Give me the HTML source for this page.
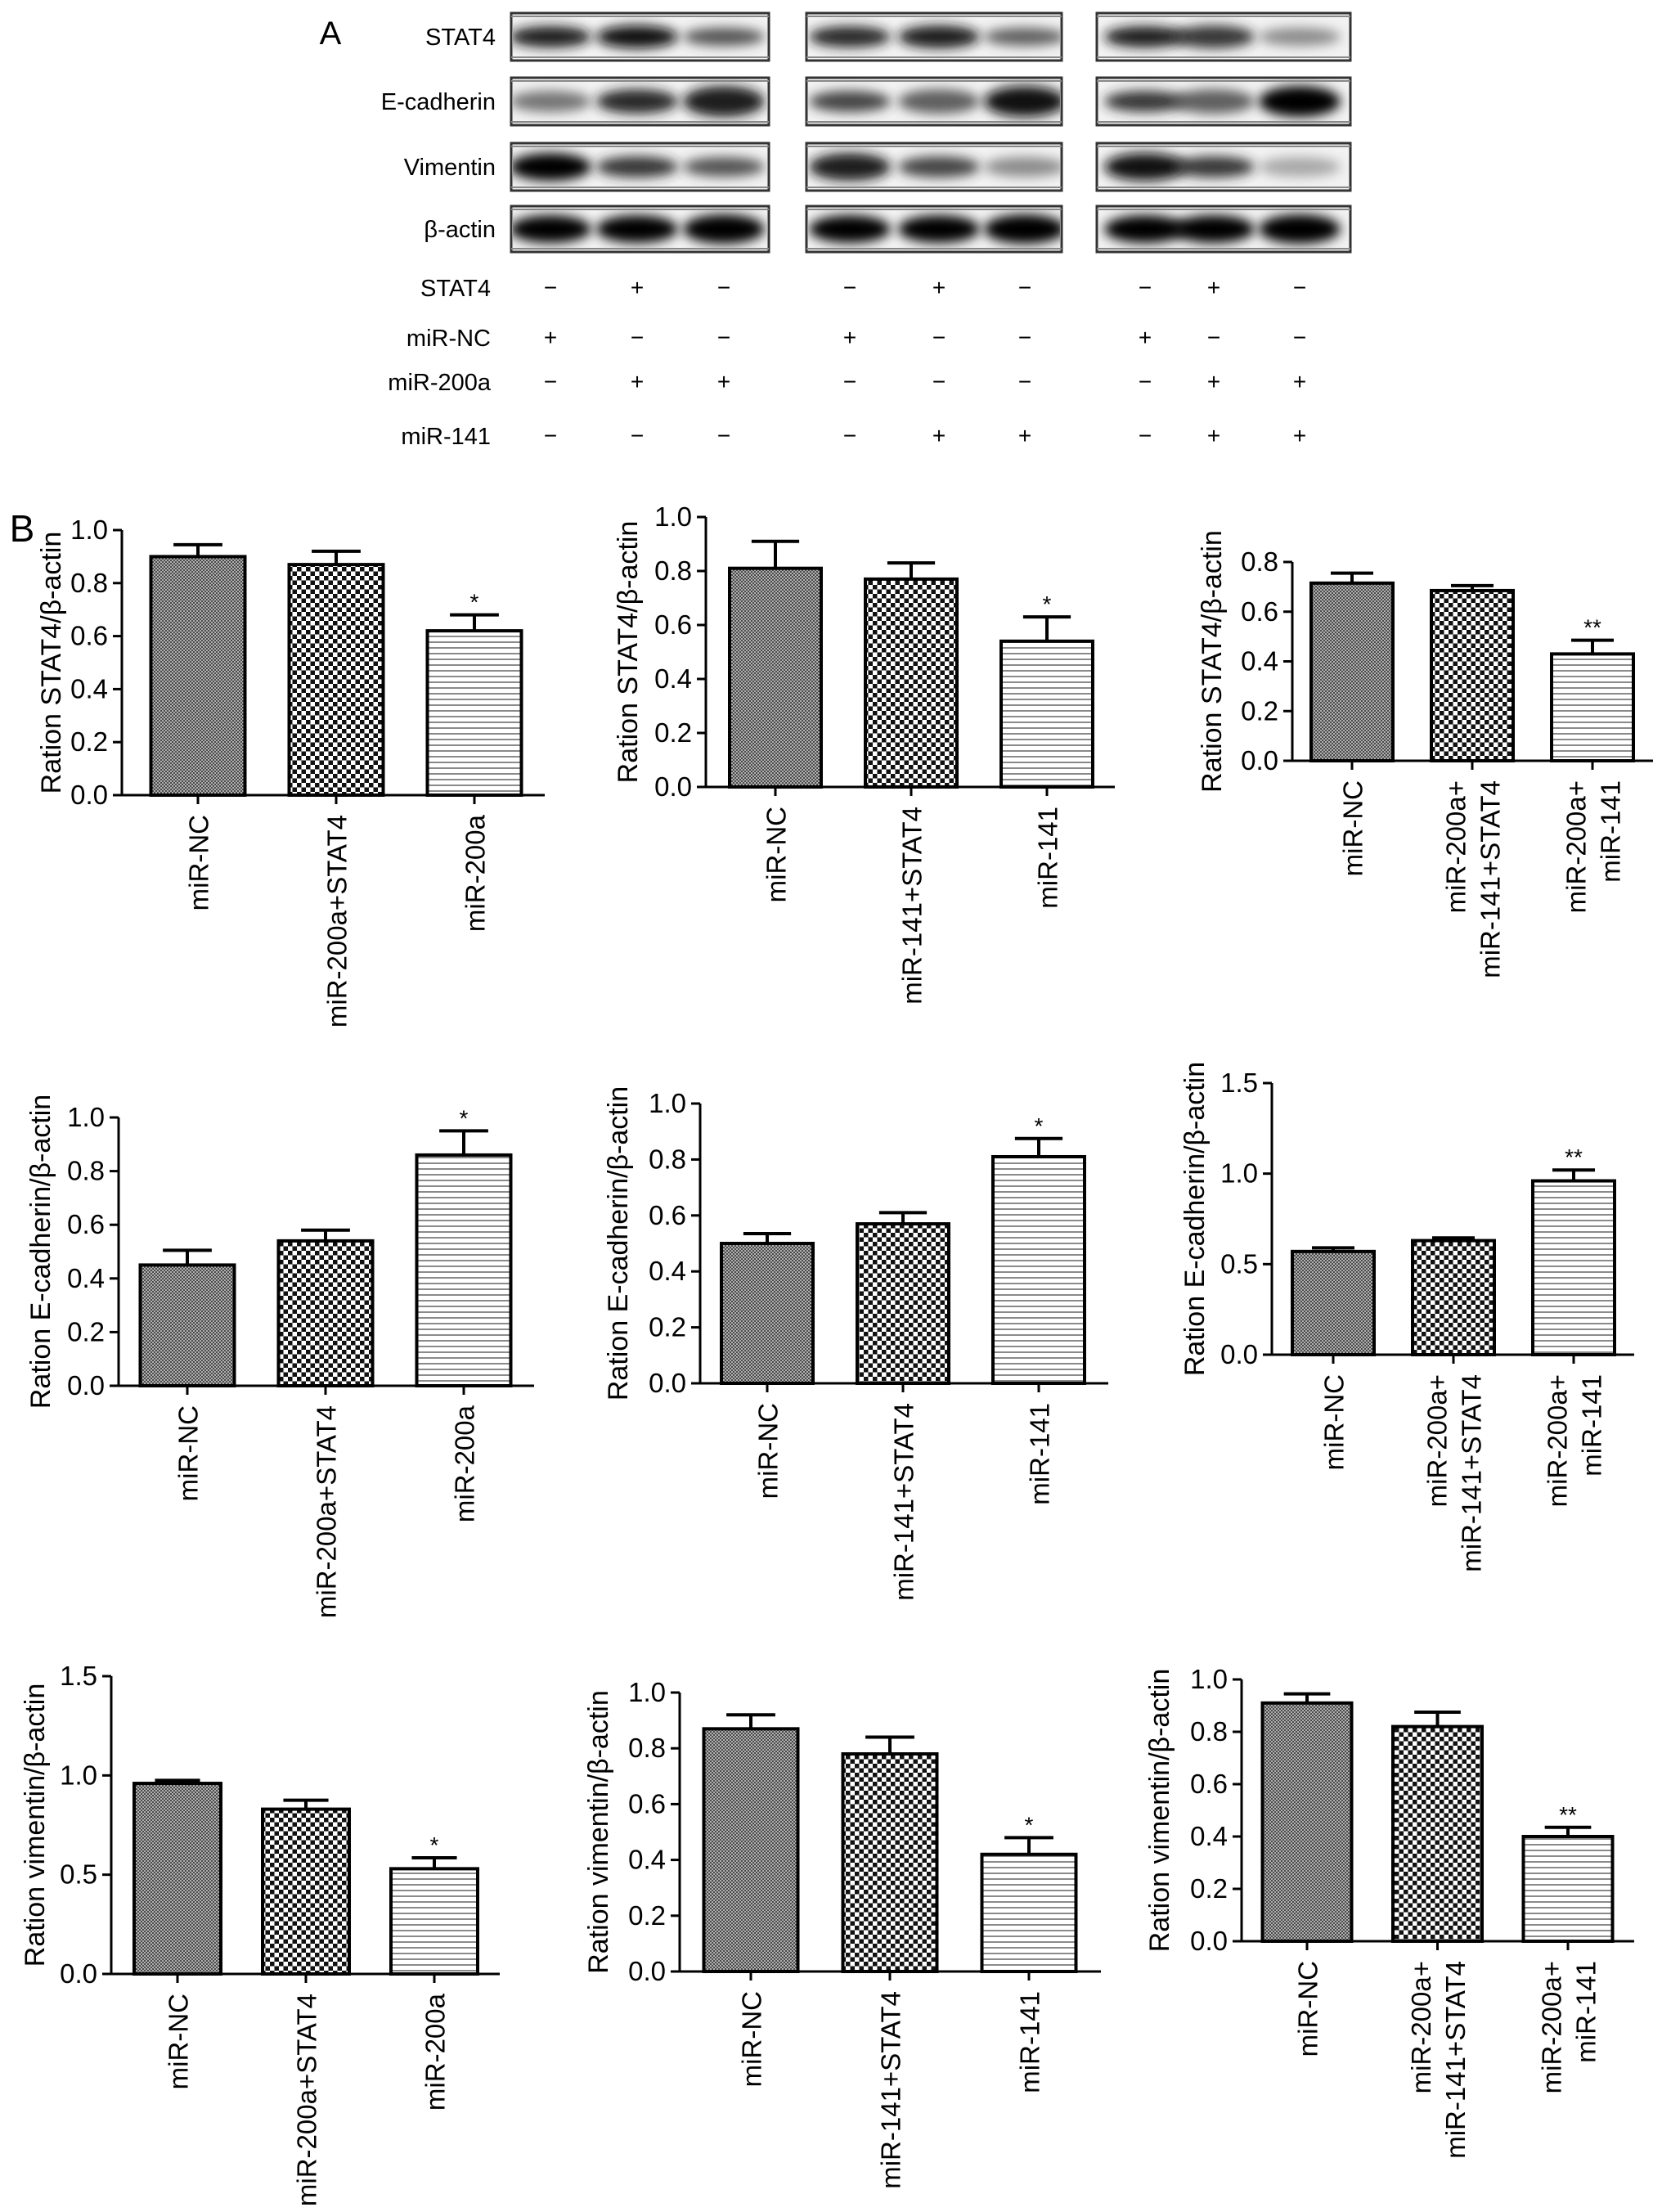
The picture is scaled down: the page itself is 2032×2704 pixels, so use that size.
<!DOCTYPE html>
<html><head><meta charset="utf-8"><style>
html,body{margin:0;padding:0;background:#fff;}
svg{display:block;font-family:"Liberation Sans",Arial,sans-serif;}
</style></head><body>
<svg id="fig" width="2032" height="2704" viewBox="0 0 2032 2704" xmlns="http://www.w3.org/2000/svg">
<defs>
<pattern id="pat-fine" width="4" height="4" patternUnits="userSpaceOnUse"><rect width="4" height="4" fill="#b0b0b0"/><rect width="2" height="2" fill="#4a4a4a"/><rect x="2" y="2" width="2" height="2" fill="#4a4a4a"/></pattern>
<pattern id="pat-check" width="11" height="11" patternUnits="userSpaceOnUse"><rect width="11" height="11" fill="#fff"/><rect width="5.5" height="5.5" fill="#111"/><rect x="5.5" y="5.5" width="5.5" height="5.5" fill="#111"/></pattern>
<pattern id="pat-hline" width="8" height="7" patternUnits="userSpaceOnUse"><rect width="8" height="7" fill="#fff"/><rect y="0" width="8" height="2" fill="#8a8a8a"/></pattern>
<filter id="blur" x="-30%" y="-80%" width="160%" height="260%"><feGaussianBlur stdDeviation="7"/></filter>
</defs>
<g id="blots"></g>
<g id="charts"></g>
</svg>
<script>
// ---------- Chart data ----------
const cats200 = ["miR-NC","miR-200a+STAT4","miR-200a"];
const cats141 = ["miR-NC","miR-141+STAT4","miR-141"];
const catsBoth = [["miR-NC"],["miR-200a+","miR-141+STAT4"],["miR-200a+","miR-141"]];

const stat4Vals200 = [0.90, 0.87, 0.62];
const stat4Errs200 = [0.045, 0.05, 0.06];
const stat4Vals141 = [0.81, 0.77, 0.54];
const stat4Errs141 = [0.10, 0.06, 0.09];
const stat4ValsBoth = [0.715, 0.685, 0.43];
const stat4ErrsBoth = [0.04, 0.02, 0.055];

const ecadVals200 = [0.45, 0.54, 0.86];
const ecadErrs200 = [0.055, 0.04, 0.09];
const ecadVals141 = [0.50, 0.57, 0.81];
const ecadErrs141 = [0.035, 0.04, 0.065];
const ecadValsBoth = [0.57, 0.63, 0.96];
const ecadErrsBoth = [0.02, 0.015, 0.06];

const vimVals200 = [0.96, 0.83, 0.53];
const vimErrs200 = [0.015, 0.045, 0.055];
const vimVals141 = [0.87, 0.78, 0.42];
const vimErrs141 = [0.05, 0.06, 0.06];
const vimValsBoth = [0.91, 0.82, 0.40];
const vimErrsBoth = [0.035, 0.055, 0.035];

const starsSingle = ["","","*"];
const starsDouble = ["","","**"];

const ticks10 = ["0.0","0.2","0.4","0.6","0.8","1.0"];
const ticks08 = ["0.0","0.2","0.4","0.6","0.8"];
const ticks15 = ["0.0","0.5","1.0","1.5"];

const titleStat4 = "Ration STAT4/β-actin";
const titleEcad = "Ration E-cadherin/β-actin";
const titleVim = "Ration vimentin/β-actin";

// ---------- Layout (pixels, not data) ----------
const panels = [
 {name:"stat4-mir200a", cats:cats200, vals:stat4Vals200, errs:stat4Errs200, stars:starsSingle, ticks:ticks10, title:titleStat4,
  L:{ax:149,y0:972,yTopPx:648,xEnd:666,c0:242,step:169,w:115,tx:63}},
 {name:"stat4-mir141", cats:cats141, vals:stat4Vals141, errs:stat4Errs141, stars:starsSingle, ticks:ticks10, title:titleStat4,
  L:{ax:863,y0:962,yTopPx:632,xEnd:1363,c0:948,step:166,w:112,tx:768}},
 {name:"stat4-combined", cats:catsBoth, vals:stat4ValsBoth, errs:stat4ErrsBoth, stars:starsDouble, ticks:ticks08, title:titleStat4,
  L:{ax:1580,y0:930,yTopPx:687,xEnd:2021,c0:1653,step:147,w:100,tx:1482}},
 {name:"ecad-mir200a", cats:cats200, vals:ecadVals200, errs:ecadErrs200, stars:starsSingle, ticks:ticks10, title:titleEcad,
  L:{ax:145,y0:1694,yTopPx:1366,xEnd:653,c0:229,step:169,w:115,tx:50}},
 {name:"ecad-mir141", cats:cats141, vals:ecadVals141, errs:ecadErrs141, stars:starsSingle, ticks:ticks10, title:titleEcad,
  L:{ax:856,y0:1691,yTopPx:1349,xEnd:1355,c0:938,step:166,w:112,tx:756}},
 {name:"ecad-combined", cats:catsBoth, vals:ecadValsBoth, errs:ecadErrsBoth, stars:starsDouble, ticks:ticks15, title:titleEcad,
  L:{ax:1555,y0:1656,yTopPx:1324,xEnd:1998,c0:1630,step:147,w:100,tx:1461}},
 {name:"vim-mir200a", cats:cats200, vals:vimVals200, errs:vimErrs200, stars:starsSingle, ticks:ticks15, title:titleVim,
  L:{ax:136,y0:2413,yTopPx:2049,xEnd:611,c0:217,step:157,w:106,tx:43}},
 {name:"vim-mir141", cats:cats141, vals:vimVals141, errs:vimErrs141, stars:starsSingle, ticks:ticks10, title:titleVim,
  L:{ax:831,y0:2410,yTopPx:2069,xEnd:1346,c0:918,step:170,w:115,tx:732}},
 {name:"vim-combined", cats:catsBoth, vals:vimValsBoth, errs:vimErrsBoth, stars:starsDouble, ticks:ticks10, title:titleVim,
  L:{ax:1518,y0:2373,yTopPx:2053,xEnd:1998,c0:1598,step:159.5,w:109,tx:1418}}
];
const fills = ["url(#pat-fine)","url(#pat-check)","url(#pat-hline)"];

const NS = "http://www.w3.org/2000/svg";
function mk(tag, attrs, parent){
  const e = document.createElementNS(NS, tag);
  for (const k in attrs) e.setAttribute(k, attrs[k]);
  if (parent) parent.appendChild(e);
  return e;
}
const charts = document.getElementById("charts");

const bLabel = mk("text",{x:27,y:662,"font-size":46,"text-anchor":"middle"},charts);
bLabel.textContent = "B";



panels.forEach(function(p){
  const L = p.L;
  const yMax = parseFloat(p.ticks[p.ticks.length-1]);
  const yScale = function(v){ return L.y0 - (v / yMax) * (L.y0 - L.yTopPx); };
  const xScale = function(i){ return L.c0 + i * L.step; };
  const g = mk("g",{},charts);
  
  

  p.vals.forEach(function(v, i){
    const cx = xScale(i), top = yScale(v);
    const bar = mk("rect",{x:cx - L.w/2, y:top, width:L.w, height:L.y0 - top, fill:fills[i], stroke:"#000","stroke-width":4},g);
    
    
    const et = yScale(v + p.errs[i]);
    const cap = L.w * 0.26;
    const eb = mk("path",{d:"M"+cx+" "+top+"V"+et+"M"+(cx-cap)+" "+et+"H"+(cx+cap), stroke:"#000","stroke-width":4,fill:"none"},g);
    
    
    if (p.stars[i]) {
      const st = mk("text",{x:cx, y:et - 6, "font-size":28, "text-anchor":"middle"},g);
      st.textContent = p.stars[i];
      
      
    }
    mk("line",{x1:cx,x2:cx,y1:L.y0,y2:L.y0+11,stroke:"#000","stroke-width":3},g);
    const lines = Array.isArray(p.cats[i]) ? p.cats[i] : [p.cats[i]];
    lines.forEach(function(t, j){
      const off = (j - (lines.length-1)/2) * 42;
      const lx = cx + off + 1, ly = L.y0 + 24;
      const tx = mk("text",{x:lx, y:ly, "font-size":33, "text-anchor":"end","dominant-baseline":"central", transform:"rotate(-90 "+lx+" "+ly+")"},g);
      tx.textContent = t;
      
      
    });
  });

  const axes = mk("path",{d:"M"+L.ax+" "+L.yTopPx+"V"+L.y0+"M"+(L.ax-3)+" "+L.y0+"H"+L.xEnd, stroke:"#000","stroke-width":3,fill:"none"},g);
  
  
  p.ticks.forEach(function(t){
    const y = yScale(parseFloat(t));
    mk("line",{x1:L.ax-11,x2:L.ax,y1:y,y2:y,stroke:"#000","stroke-width":3},g);
    const tl = mk("text",{x:L.ax-17, y:y+11, "font-size":33, "text-anchor":"end"},g);
    tl.textContent = t;
    
    
  });
  const midY = (L.y0 + L.yTopPx)/2;
  const yt = mk("text",{x:L.tx, y:midY, "font-size":34, "text-anchor":"middle","dominant-baseline":"central", transform:"rotate(-90 "+L.tx+" "+midY+")"},g);
  yt.textContent = p.title;
  
  
});

// ---------- Western blot ----------
const blotRowNames = ["STAT4","E-cadherin","Vimentin","β-actin"];
const blotRowY = [[16,74],[95,153],[175,233],[252,308]];
const blotColX = [[625,940],[986,1298],[1341,1651]];
const laneX = [[673,779,885],[1039,1148,1253],[1400,1484,1589]];
const bandInt = [
 [[0.9,0.95,0.7],[0.85,0.9,0.65],[0.9,0.8,0.45]],
 [[0.55,0.85,0.9],[0.75,0.65,0.95],[0.8,0.65,1.0]],
 [[1.0,0.8,0.7],[0.9,0.75,0.45],[0.95,0.8,0.3]],
 [[0.98,0.98,0.98],[0.98,0.98,1.0],[1.0,1.0,1.0]]
];
const bandH = [[22,24,18],[22,26,34],[30,22,20],[30,30,32]];
const signRowNames = ["STAT4","miR-NC","miR-200a","miR-141"];
const signRowY = [352,413,467,533];
const signs = [
 ["−","+","−","−","+","−","−","+","−"],
 ["+","−","−","+","−","−","+","−","−"],
 ["−","+","+","−","−","−","−","+","+"],
 ["−","−","−","−","+","+","−","+","+"]
];

const blots = document.getElementById("blots");
const aL = mk("text",{x:404,y:54,"font-size":40,"text-anchor":"middle"},blots);
aL.textContent = "A";



blotRowNames.forEach(function(n, r){
  const y0 = blotRowY[r][0], y1 = blotRowY[r][1];
  const lbl = mk("text",{x:606,y:(y0+y1)/2+10,"font-size":29,"text-anchor":"end"},blots);
  lbl.textContent = n;
  
  
  blotColX.forEach(function(c, gi){
    const grp = mk("g",{},blots);
    
    
    mk("rect",{x:c[0],y:y0,width:c[1]-c[0],height:y1-y0,fill:"#f2f2f2",stroke:"#333","stroke-width":3},grp);
    const clip = "clip"+r+"_"+gi;
    const cp = mk("clipPath",{id:clip},grp);
    mk("rect",{x:c[0]+2,y:y0+2,width:c[1]-c[0]-4,height:y1-y0-4},cp);
    const bg = mk("g",{"clip-path":"url(#"+clip+")"},grp);
    laneX[gi].forEach(function(lx, li){
      const d = bandInt[r][gi][li];
      const shade = Math.round(200 - d*200);
      mk("ellipse",{cx:lx,cy:(y0+y1)/2,rx:50,ry:bandH[r][li]/2+2,fill:"rgb("+shade+","+shade+","+shade+")",opacity:0.6+0.4*d,filter:"url(#blur)"},bg);
    });
    mk("line",{x1:c[0],x2:c[1],y1:y0+4,y2:y0+4,stroke:"#888","stroke-width":2},grp);
    mk("line",{x1:c[0],x2:c[1],y1:y1-4,y2:y1-4,stroke:"#888","stroke-width":2},grp);
  });
});

signRowNames.forEach(function(n, r){
  const y = signRowY[r];
  const lbl = mk("text",{x:600,y:y+10,"font-size":29,"text-anchor":"end"},blots);
  lbl.textContent = n;
  
  
  signs[r].forEach(function(s, k){
    const gi = Math.floor(k/3), li = k%3;
    const t = mk("text",{x:laneX[gi][li],y:y+9,"font-size":28,"text-anchor":"middle"},blots);
    t.textContent = s;
    
    
  });
});
</script>
</body></html>
